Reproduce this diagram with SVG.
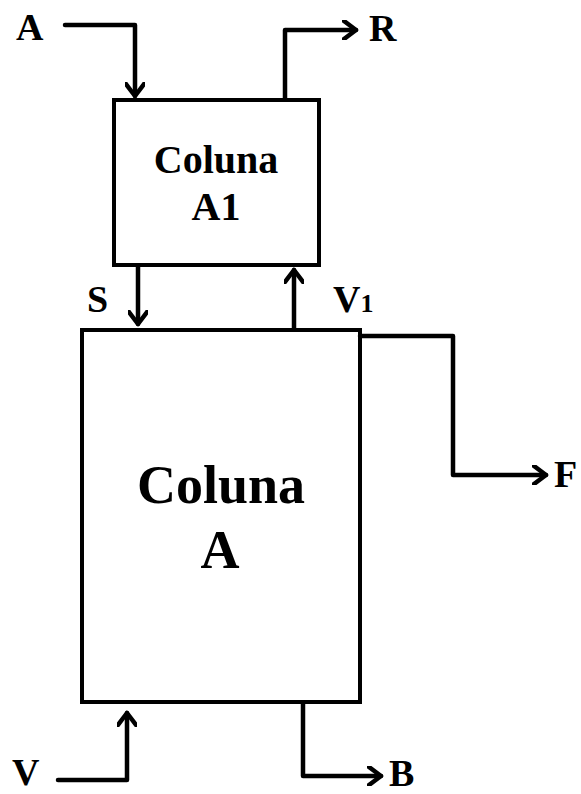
<svg xmlns="http://www.w3.org/2000/svg" width="581" height="794" viewBox="0 0 581 794">
<style>
.box{fill:#fff;stroke:#000;stroke-width:4}
.ln{fill:none;stroke:#000;stroke-width:4.5;stroke-linejoin:round;stroke-linecap:round}
text{font-family:"Liberation Serif","Times New Roman",serif;font-weight:bold;fill:#000}
.lbl{font-size:38px}
.t1{font-size:40px;text-anchor:middle}
.t2{font-size:54px;text-anchor:middle}
</style>
<defs>
<marker id="ah" markerWidth="20" markerHeight="20" viewBox="-14 -10 20 20" refX="0" refY="0" orient="auto" markerUnits="userSpaceOnUse">
<path d="M-12,-9 L0,0 L-12,9" fill="none" stroke="#000" stroke-width="4.5" stroke-linecap="round" stroke-linejoin="round"/>
</marker>
</defs>
<g id="colunaA1">
<rect class="box" x="114" y="100" width="205" height="165"/>
<text class="t1" x="216" y="173">Coluna</text>
<text class="t1" x="216" y="220">A1</text>
</g>
<g id="colunaA">
<rect class="box" x="82" y="330" width="278" height="372"/>
<text class="t2" x="221" y="503">Coluna</text>
<text class="t2" x="220" y="568">A</text>
</g>
<g id="connectors">
<path class="ln" d="M65,25 H135 V96" marker-end="url(#ah)"/>
<path class="ln" d="M285,98 V30 H356" marker-end="url(#ah)"/>
<path class="ln" d="M138,267 V324" marker-end="url(#ah)"/>
<path class="ln" d="M294,328 V270" marker-end="url(#ah)"/>
<path class="ln" d="M360,336 H453 V475 H546" marker-end="url(#ah)"/>
<path class="ln" d="M58,780 H127 V713" marker-end="url(#ah)"/>
<path class="ln" d="M303,704 V776 H381" marker-end="url(#ah)"/>
</g>
<g id="labels">
<text class="lbl" x="16" y="40">A</text>
<text class="lbl" x="369" y="41">R</text>
<text class="lbl" x="87" y="312">S</text>
<text class="lbl" x="333" y="312">V<tspan font-size="26px">1</tspan></text>
<text class="lbl" x="554" y="487">F</text>
<text class="lbl" x="12" y="785">V</text>
<text class="lbl" x="389" y="786">B</text>
</g>
</svg>
